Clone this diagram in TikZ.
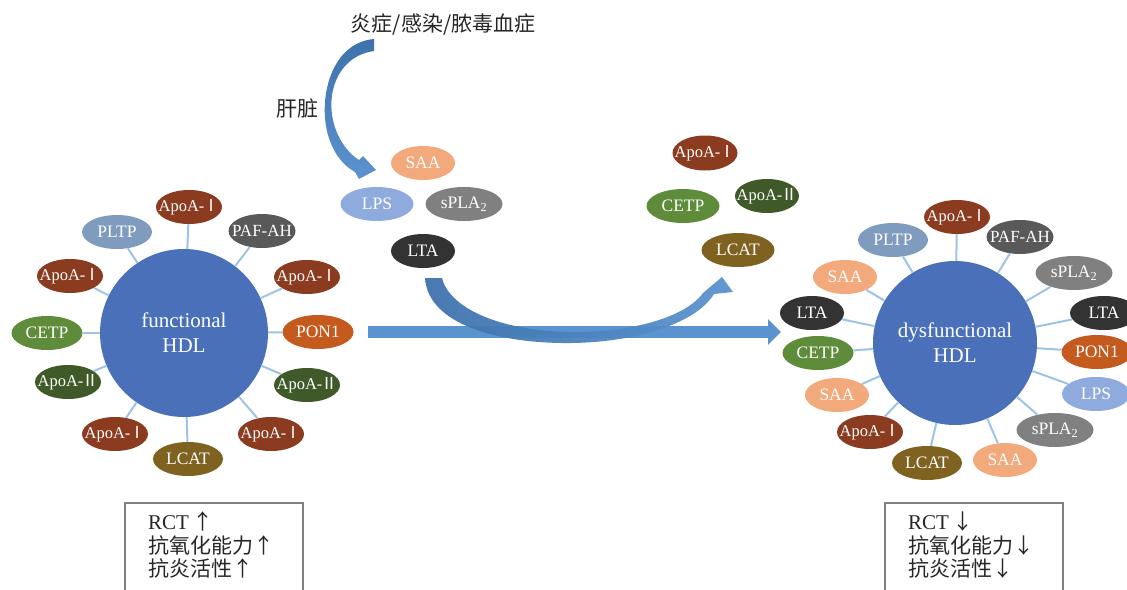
\documentclass[tikz,border=0pt]{standalone}
\usepackage{fontspec}
\setmainfont{Liberation Serif}
\newfontfamily\cjk{Noto Sans CJK SC}
\usetikzlibrary{shapes.geometric,arrows.meta}
\definecolor{apoIc}{HTML}{8B3B1F}
\definecolor{apoIIc}{HTML}{3F5A28}
\definecolor{pltpc}{HTML}{7F9BBE}
\definecolor{pafc}{HTML}{595959}
\definecolor{cetpc}{HTML}{5E8C3A}
\definecolor{ponc}{HTML}{C55A1F}
\definecolor{lcatc}{HTML}{7F6120}
\definecolor{saac}{HTML}{F2A97C}
\definecolor{lpsc}{HTML}{8FAADC}
\definecolor{splac}{HTML}{808080}
\definecolor{ltac}{HTML}{333333}
\definecolor{hdlc}{HTML}{4A70B9}
\definecolor{linkc}{HTML}{9DC3E6}
\definecolor{arrc}{HTML}{5B93CF}
\definecolor{arrdark}{HTML}{3F72AC}
\definecolor{boxc}{HTML}{808080}
\definecolor{txtc}{HTML}{262626}
\newcommand{\romI}{\hspace{-1.5pt}{\cjk Ⅰ}}
\newcommand{\romII}{\hspace{-1.5pt}{\cjk Ⅱ}}
\newcommand{\zt}[1]{\makebox[0pt][c]{#1}}
\tikzset{
  sat/.style={ellipse, minimum width=66pt, minimum height=34pt, inner sep=0pt,
    text=white, font=\fontsize{17.5}{19}\selectfont},
  apoI/.style={sat, fill=apoIc, minimum width=66pt, font=\fontsize{16.5}{18}\selectfont},
  apoII/.style={sat, fill=apoIIc, minimum width=66pt, font=\fontsize{16.5}{18}\selectfont},
  pltp/.style={sat, fill=pltpc, minimum width=70pt},
  paf/.style={sat, fill=pafc, minimum width=67pt, font=\fontsize{17}{18}\selectfont},
  cetp/.style={sat, fill=cetpc, minimum width=71pt},
  pon/.style={sat, fill=ponc, minimum width=71pt},
  lcat/.style={sat, fill=lcatc, minimum width=70pt},
  saa/.style={sat, fill=saac, minimum width=64pt},
  lps/.style={sat, fill=lpsc, minimum width=73pt},
  spla/.style={sat, fill=splac, minimum width=77pt},
  lta/.style={sat, fill=ltac, minimum width=64pt},
  hdl/.style={circle, fill=hdlc, text=white, align=center, inner sep=0pt,
    font=\fontsize{21}{25}\selectfont},
  link/.style={draw=linkc, line width=2pt},
  cjktxt/.style={text=txtc, font=\cjk\fontsize{21}{24}\selectfont, inner sep=0pt},
  boxtxt/.style={text=txtc, font=\fontsize{21}{24}\selectfont, inner sep=0pt, anchor=base west},
  boxline/.style={draw=boxc, line width=2pt}
}
\begin{document}
\begin{tikzpicture}[x=1pt,y=-1pt]
\useasboundingbox (0,0) rectangle (1127,589);
\clip (0,0) rectangle (1127,589);

% ---------- left cluster ----------
\node[hdl, minimum size=168pt] (hl) at (184,333) {functional\\HDL};
\node[apoI]  (l1)  at (189,207) {\zt{ApoA-\romI}};
\node[pltp]  (l2)  at (117,232) {\zt{PLTP}};
\node[paf]   (l3)  at (262,231) {\zt{PAF-AH}};
\node[apoI]  (l4)  at (70,276)  {\zt{ApoA-\romI}};
\node[apoI]  (l5)  at (307,277) {\zt{ApoA-\romI}};
\node[cetp]  (l6)  at (47,333)  {\zt{CETP}};
\node[pon]   (l7)  at (318,332) {\zt{PON1}};
\node[apoII] (l8)  at (68,382)  {\zt{ApoA-\romII}};
\node[apoII] (l9)  at (307,385) {\zt{ApoA-\romII}};
\node[apoI]  (l10) at (115,434) {\zt{ApoA-\romI}};
\node[apoI]  (l11) at (271,434) {\zt{ApoA-\romI}};
\node[lcat]  (l12) at (188,459) {\zt{LCAT}};
\foreach \s in {l1,l2,l3,l4,l5,l6,l7,l8,l9,l10,l11,l12}
  \draw[link] (hl) -- (\s);

% ---------- right cluster ----------
\node[hdl, minimum size=164pt] (hr) at (955,343) {dysfunctional\\HDL};
\node[apoI]  (r1)  at (957,217)  {\zt{ApoA-\romI}};
\node[pltp]  (r2)  at (893,240)  {\zt{PLTP}};
\node[paf]   (r3)  at (1020,237) {\zt{PAF-AH}};
\node[saa]   (r4)  at (845,277)  {\zt{SAA}};
\node[spla]  (r5)  at (1074,273) {\zt{sPLA\textsubscript{2}}};
\node[lta]   (r6)  at (812,313)  {\zt{LTA}};
\node[lta, minimum width=68pt] (r7) at (1104,313) {\zt{LTA}};
\node[cetp]  (r8)  at (818,353)  {\zt{CETP}};
\node[pon]   (r9)  at (1097,352) {\zt{PON1}};
\node[saa]   (r10) at (837,395)  {\zt{SAA}};
\node[lps, minimum width=68pt] (r11) at (1096,394) {\zt{LPS}};
\node[apoI]  (r12) at (870,432)  {\zt{ApoA-\romI}};
\node[spla]  (r13) at (1055,430) {\zt{sPLA\textsubscript{2}}};
\node[lcat]  (r14) at (927,463)  {\zt{LCAT}};
\node[saa]   (r15) at (1005,460) {\zt{SAA}};
\foreach \s in {r1,r2,r3,r4,r5,r6,r7,r8,r9,r10,r11,r12,r13,r14,r15}
  \draw[link] (hr) -- (\s);

% ---------- middle groups ----------
\node[saa]  (m1) at (423,163) {\zt{SAA}};
\node[lps]  (m2) at (377,204) {\zt{LPS}};
\node[spla] (m3) at (464,204) {\zt{sPLA\textsubscript{2}}};
\node[lta]  (m4) at (423,251) {\zt{LTA}};

\node[apoI, minimum height=35pt, minimum width=65pt] (t1) at (705,153) {\zt{ApoA-\romI}};
\node[apoII, minimum width=64pt]  (t2) at (767,196) {\zt{ApoA-\romII}};
\node[cetp, minimum width=73pt]   (t3) at (683,206) {\zt{CETP}};
\node[lcat, minimum width=73pt]   (t4) at (738,250) {\zt{LCAT}};

% ---------- texts ----------
\node[cjktxt] (title) at (443,25) {炎症/感染/脓毒血症};
\node[cjktxt] (liver) at (297,109) {肝脏};

% ---------- horizontal arrow ----------
\coordinate (hs) at (368,332);
\coordinate (he) at (781,332);
\draw[arrc, line width=12pt, -{Triangle[width=25pt,length=13pt]}] (hs) -- (he);

% ---------- top curved arrow ----------
\shade[top color=arrdark, bottom color=arrc]
  (374,39) .. controls (330,43) and (318,100) .. (328,135)
  .. controls (334,155) and (344,166) .. (355,172)
  -- (359,179) -- (376,170) -- (363,156) -- (359,160)
  .. controls (343,150) and (328,125) .. (332,95)
  .. controls (336,70) and (352,54) .. (374,51) -- cycle;

% ---------- bottom curved arrow ----------
\shade[left color=arrdark, right color=arrc, opacity=0.95]
  (425,278) .. controls (428,325) and (500,344) .. (572,343)
  .. controls (640,342) and (697,322) .. (714,294)
  -- (733,292) -- (722,277) -- (703,293)
  .. controls (685,318) and (630,332) .. (575,332)
  .. controls (505,332) and (450,310) .. (442,278) -- cycle;

% ---------- bottom boxes ----------
\draw[boxline] (125,503) rectangle (303,620);
\node[boxtxt] (lb1) at (148,529) {RCT\,{\cjk ↑}};
\node[boxtxt] (lb2) at (148,553) {\cjk 抗氧化能力↑};
\node[boxtxt] (lb3) at (148,576) {\cjk 抗炎活性↑};

\draw[boxline] (885,503) rectangle (1063,620);
\node[boxtxt] (rb1) at (908,529) {RCT\,{\cjk ↓}};
\node[boxtxt] (rb2) at (908,553) {\cjk 抗氧化能力↓};
\node[boxtxt] (rb3) at (908,576) {\cjk 抗炎活性↓};
\end{tikzpicture}
\end{document}
